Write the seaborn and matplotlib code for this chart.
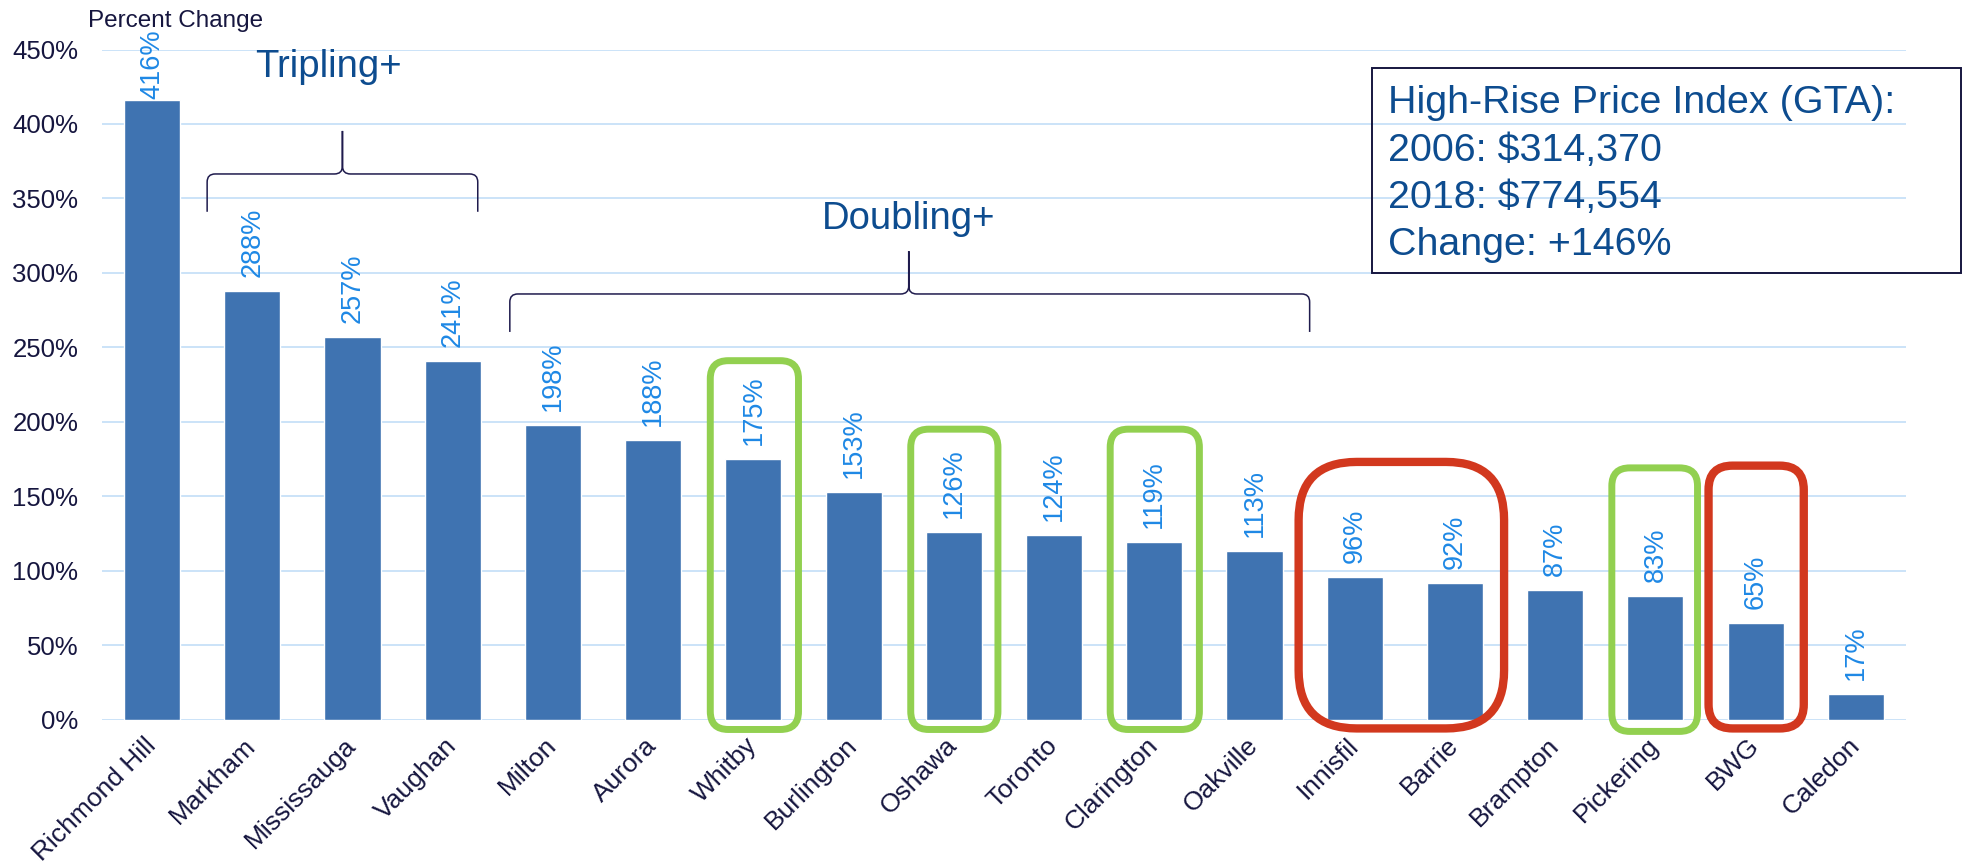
import matplotlib
matplotlib.use("Agg")
import matplotlib.pyplot as plt
import seaborn as sns
import pandas as pd
from matplotlib.patches import FancyBboxPatch, PathPatch, Rectangle
from matplotlib.path import Path

# ---------------- data ----------------
cities = ["Richmond Hill", "Markham", "Mississauga", "Vaughan", "Milton", "Aurora",
          "Whitby", "Burlington", "Oshawa", "Toronto", "Clarington", "Oakville",
          "Innisfil", "Barrie", "Brampton", "Pickering", "BWG", "Caledon"]
pct_change = [416, 288, 257, 241, 198, 188, 175, 153, 126, 124, 119, 113, 96, 92, 87, 83, 65, 17]
y_ticks = [0, 50, 100, 150, 200, 250, 300, 350, 400, 450]
info_lines = ["High-Rise Price Index (GTA):", "2006: $314,370", "2018: $774,554", "Change: +146%"]

# ---------------- styles ----------------
BAR = "#3F73B1"
LBL = "#1E88E5"
NAVY = "#16163F"
GRID = "#CBE3F8"
DARKBLUE = "#0D4C8F"
GREEN = "#92D050"
RED = "#D2381E"
BRACE = "#1F1B4D"

sns.set_theme(style="white")
plt.rcParams['font.family'] = ['Liberation Sans', 'DejaVu Sans']

W, H = 1969, 867
fig = plt.figure(figsize=(W / 100, H / 100), dpi=100)
ax_rect = [101.9 / W, (H - 719.5) / H, (1906 - 101.9) / W, 670 / H]
ax = fig.add_axes(ax_rect)

df = pd.DataFrame({"city": cities, "pct": pct_change})
sns.barplot(data=df, x="city", y="pct", color=BAR, saturation=1, width=0.56,
            ax=ax, zorder=2)
ax.set_xlim(-0.5, len(cities) - 0.5)
ax.set_ylim(0, 450)
ax.set_yticks(y_ticks)
ax.set_yticklabels([f"{v}%" for v in y_ticks])
ax.yaxis.grid(True, color=GRID, lw=1.4, zorder=0)
ax.xaxis.grid(False)
ax.set_axisbelow(True)
for s in ax.spines.values():
    s.set_visible(False)
ax.set_xlabel("")
ax.set_ylabel("")
ax.tick_params(axis='y', length=0, pad=17, labelsize=18.5, labelcolor=NAVY)
ax.tick_params(axis='x', length=0, pad=16, labelsize=19, labelcolor=NAVY)
for t in ax.get_xticklabels():
    t.set_rotation(45)
    t.set_ha('right')
    t.set_va('center')
    t.set_rotation_mode('anchor')

anns = ax.bar_label(ax.containers[0], labels=[f"{v}%" for v in pct_change], rotation=90,
                    padding=10, color=LBL, fontsize=19.5, clip_on=False)

# keep labels inside the figure top margin (like the chart area clamp)
fig.canvas.draw()
renderer = fig.canvas.get_renderer()
top_limit = H - 29
for a in anns:
    bb = a.get_window_extent(renderer)
    if bb.y1 > top_limit:
        over_pt = (bb.y1 - top_limit) * 72 / fig.dpi
        ox, oy = a.xyann
        a.xyann = (ox, oy - over_pt)

# pixel scale of data units
ax_w_px = ax_rect[2] * W
ax_h_px = ax_rect[3] * H
px_x = ax_w_px / len(cities)
px_y = ax_h_px / 450.0
asp = px_x / px_y

# ---------------- highlight boxes ----------------
boxes = [
    (5.57, 6.45, -6.7, 241, GREEN, 18, 5),
    (7.57, 8.44, -6.7, 195, GREEN, 18, 5),
    (9.56, 10.45, -6.7, 195, GREEN, 18, 5),
    (11.44, 13.49, -6.0, 173, RED, 58, 6),
    (14.565, 15.42, -8.0, 169, GREEN, 18, 5),
    (15.53, 16.48, -6.0, 170.5, RED, 24, 6),
]
for x0, x1, y0, y1, c, r, lw in boxes:
    p = FancyBboxPatch((x0, y0), x1 - x0, y1 - y0,
                       boxstyle=f"round,pad=0,rounding_size={r / px_x}",
                       mutation_aspect=asp, fill=False, ec=c, lw=lw,
                       clip_on=False, zorder=3)
    ax.add_patch(p)

# ---------------- braces ----------------
def brace(x0, x1, xt, yend, yh, ytip, r=8):
    rx = r / px_x
    ry = r / px_y
    verts = [(x0, yend), (x0, yh - ry), (x0, yh), (x0 + rx, yh),
             (xt - rx, yh), (xt, yh), (xt, yh + ry), (xt, ytip),
             (xt, yh + ry), (xt, yh), (xt + rx, yh),
             (x1 - rx, yh), (x1, yh), (x1, yh - ry), (x1, yend)]
    codes = [Path.MOVETO, Path.LINETO, Path.CURVE3, Path.CURVE3,
             Path.LINETO, Path.CURVE3, Path.CURVE3, Path.LINETO,
             Path.LINETO, Path.CURVE3, Path.CURVE3,
             Path.LINETO, Path.CURVE3, Path.CURVE3, Path.LINETO]
    ax.add_patch(PathPatch(Path(verts, codes), fill=False, ec=BRACE, lw=1.1,
                           clip_on=False, zorder=4))

brace(0.55, 3.25, 1.9, 341, 366.4, 395.3)
brace(3.57, 11.55, 7.55, 260.3, 285.8, 314.6)

ax.text(1.76, 431.7, "Tripling+", color=DARKBLUE, fontsize=27.5, ha='center',
        va='baseline', clip_on=False)
ax.text(7.55, 329.5, "Doubling+", color=DARKBLUE, fontsize=27.5, ha='center',
        va='baseline', clip_on=False)

# ---------------- info box ----------------
fig.patches.append(Rectangle((1372 / W, 1 - 273 / H), (1961 - 1372) / W, 205 / H,
                             transform=fig.transFigure, fill=False, ec=NAVY, lw=1.4,
                             zorder=5))
for line, yb in zip(info_lines, [113, 161, 208, 255]):
    fig.text(1387.5 / W, 1 - yb / H, line, color=DARKBLUE, fontsize=28.4,
             ha='left', va='baseline')

fig.text(88 / W, 1 - 26.7 / H, "Percent Change", color=NAVY, fontsize=17.5,
         ha='left', va='baseline')

fig.savefig("out.png", dpi=100)
